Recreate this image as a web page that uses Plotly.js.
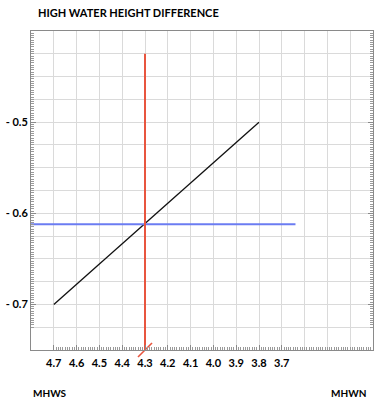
<!DOCTYPE html>
<html>
<head>
<meta charset="utf-8">
<script src="https://cdn.plot.ly/plotly-3.0.1.min.js"></script>
<style>html,body{margin:0;padding:0;background:#fff;}#chart{width:382px;height:400px;}</style>
</head>
<body>
<div id="chart"></div>
<script>
// ---- data ----
const slopeX = [4.7, 3.8];
const slopeY = [-0.7, -0.5];
const heightX = [4.8, 3.64];
const heightY = [-0.612, -0.612];
const rangeX = [4.3, 4.3];
const rangeY = [-0.425, -0.75];
const markX = [4.3];
const markY = [-0.75];
const xTickVals = [4.7, 4.6, 4.5, 4.4, 4.3, 4.2, 4.1, 4.0, 3.9, 3.8, 3.7, 3.6, 3.5, 3.4];
const xTickText = ['4.7', '4.6', '4.5', '4.4', '4.3', '4.2', '4.1', '4.0', '3.9', '3.8', '3.7', '', '', ''];
const yTickVals = [-0.725, -0.7, -0.675, -0.65, -0.625, -0.6, -0.575, -0.55, -0.525, -0.5, -0.475, -0.45, -0.425];
const yTickText = ['', '- 0.7', '', '', '', '- 0.6', '', '', '', '- 0.5', '', '', ''];
const titleText = 'HIGH WATER HEIGHT DIFFERENCE';
const leftLabel = 'MHWS';
const rightLabel = 'MHWN';

// minor tick positions
const xMinor = [];
for (let i = 0; i <= 140; i++) xMinor.push(+(4.7 - i * 0.01).toFixed(3));
const yMinor = [];
for (let i = 0; i <= 130; i++) yMinor.push(+(-0.725 + i * 0.0025).toFixed(4));

const FONT = 'Lato, Open Sans, sans-serif';
const traces = [
  {x: slopeX, y: slopeY, mode: 'lines', line: {color: '#111111', width: 1.3}, hoverinfo: 'skip'},
  {x: heightX, y: heightY, mode: 'lines', line: {color: '#6b7cf2', width: 2}, hoverinfo: 'skip'},
  {x: rangeX, y: rangeY, mode: 'lines', line: {color: '#e8553f', width: 2}, hoverinfo: 'skip'},
  {x: markX, y: markY, mode: 'markers', cliponaxis: false,
   marker: {symbol: 'line-ne', size: 14, line: {color: '#e8553f', width: 1.6}}, hoverinfo: 'skip'}
];

const layout = {
  width: 382, height: 400,
  margin: {l: 31, r: 9, t: 31, b: 50},
  paper_bgcolor: '#ffffff', plot_bgcolor: '#ffffff',
  showlegend: false,
  xaxis: {
    range: [4.8, 3.3], tickmode: 'array', tickvals: xTickVals, ticktext: xTickText,
    showgrid: true, gridcolor: '#dadada', gridwidth: 1, zeroline: false,
    showline: true, linecolor: '#8a8a8a', linewidth: 1, mirror: true,
    ticks: 'inside', ticklen: 5, tickcolor: '#8a8a8a', tickwidth: 1,
    minor: {tickmode: 'array', tickvals: xMinor, ticks: 'inside', ticklen: 3, tickcolor: '#9a9a9a', showgrid: false},
    tickfont: {family: FONT, size: 11, color: '#000', weight: 700},
    ticklabelstandoff: 3
  },
  yaxis: {
    range: [-0.75, -0.4], tickmode: 'array', tickvals: yTickVals, ticktext: yTickText,
    showgrid: true, gridcolor: '#dadada', gridwidth: 1, zeroline: false,
    showline: true, linecolor: '#8a8a8a', linewidth: 1, mirror: 'allticks',
    ticks: 'inside', ticklen: 5, tickcolor: '#8a8a8a', tickwidth: 1,
    minor: {tickmode: 'array', tickvals: yMinor, ticks: 'inside', ticklen: 3, tickcolor: '#9a9a9a', showgrid: false},
    tickfont: {family: FONT, size: 11, color: '#000', weight: 700}
  },
  annotations: [
    {text: titleText, xref: 'paper', yref: 'paper', x: 0.016, y: 1.0 + 18 / 319, xanchor: 'left', yanchor: 'middle', showarrow: false,
     font: {family: FONT, size: 11, color: '#000', weight: 700}},
    {text: leftLabel, xref: 'paper', yref: 'paper', x: 0, y: -0.135, xanchor: 'left', yanchor: 'middle', showarrow: false,
     font: {family: FONT, size: 10, color: '#000', weight: 700}},
    {text: rightLabel, xref: 'paper', yref: 'paper', x: 0.985, y: -0.135, xanchor: 'right', yanchor: 'middle', showarrow: false,
     font: {family: FONT, size: 10, color: '#000', weight: 700}}
  ]
};

Plotly.newPlot('chart', traces, layout, {staticPlot: true, displayModeBar: false});
</script>
</body>
</html>
